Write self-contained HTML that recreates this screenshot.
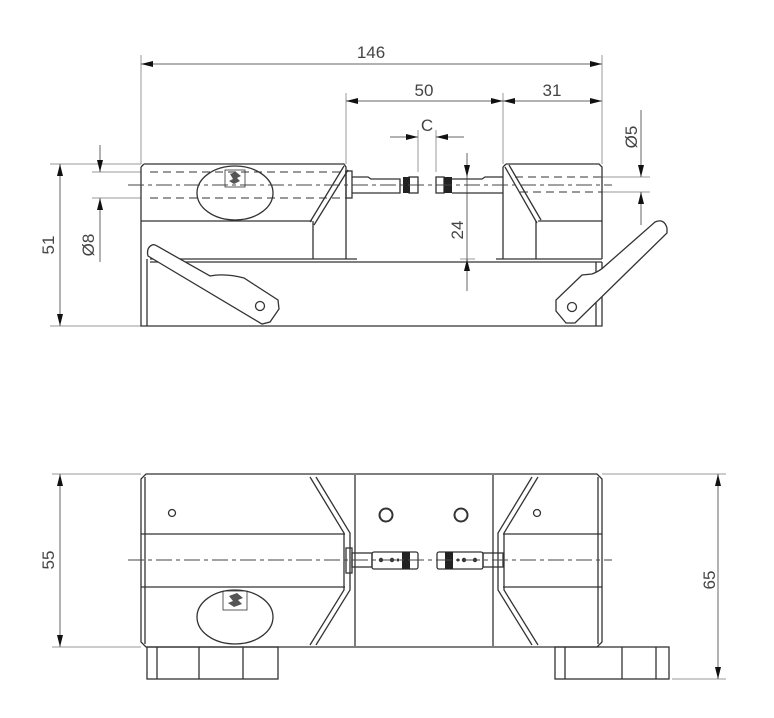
<!DOCTYPE html>
<html><head><meta charset="utf-8"><style>
html,body{margin:0;padding:0;background:#fff;}
svg{display:block;}
text{font-family:"Liberation Sans",sans-serif;font-size:17px;fill:#444;}
</style></head><body>
<svg width="774" height="718" viewBox="0 0 774 718" xmlns="http://www.w3.org/2000/svg">
<defs>
<marker id="a" viewBox="0 0 12 6" refX="12" refY="3" markerWidth="12" markerHeight="6" orient="auto-start-reverse" markerUnits="userSpaceOnUse"><path d="M0,0 L12,3 L0,6 Z" fill="#111"/></marker>
</defs>
<g stroke="#999" stroke-width="1" fill="none">
<line x1="141" y1="55" x2="141" y2="164"/>
<line x1="602" y1="55" x2="602" y2="164"/>
<line x1="346" y1="93" x2="346" y2="164"/>
<line x1="503" y1="93" x2="503" y2="164"/>
<line x1="418" y1="130" x2="418" y2="172"/>
<line x1="436" y1="130" x2="436" y2="172"/>
<line x1="50" y1="164" x2="141" y2="164"/>
<line x1="50" y1="326" x2="141" y2="326"/>
<line x1="92" y1="172" x2="141" y2="172"/>
<line x1="92" y1="198" x2="141" y2="198"/>
<line x1="600" y1="177" x2="650" y2="177"/>
<line x1="600" y1="192" x2="650" y2="192"/>
<line x1="460" y1="259" x2="475" y2="259"/>
<line x1="52" y1="474" x2="141" y2="474"/>
<line x1="52" y1="647" x2="141" y2="647"/>
<line x1="602" y1="474" x2="726" y2="474"/>
<line x1="672" y1="679" x2="726" y2="679"/>
</g>
<g stroke="#666" stroke-width="1" fill="none">
<line x1="141" y1="64" x2="602" y2="64" marker-start="url(#a)" marker-end="url(#a)"/>
<line x1="346" y1="101" x2="503" y2="101" marker-start="url(#a)" marker-end="url(#a)"/>
<line x1="503" y1="101" x2="602" y2="101" marker-start="url(#a)" marker-end="url(#a)"/>
<line x1="390" y1="137" x2="418" y2="137" marker-end="url(#a)"/>
<line x1="464" y1="137" x2="436" y2="137" marker-end="url(#a)"/>
<line x1="60" y1="164" x2="60" y2="326" marker-start="url(#a)" marker-end="url(#a)"/>
<line x1="100" y1="145" x2="100" y2="172" marker-end="url(#a)"/>
<line x1="100" y1="262" x2="100" y2="198" marker-end="url(#a)"/>
<line x1="641" y1="110" x2="641" y2="177" marker-end="url(#a)"/>
<line x1="641" y1="225" x2="641" y2="192" marker-end="url(#a)"/>
<line x1="467" y1="153" x2="467" y2="177" marker-end="url(#a)"/>
<line x1="467" y1="291" x2="467" y2="259" marker-end="url(#a)"/>
<line x1="467" y1="177" x2="467" y2="259"/>
<line x1="60" y1="474" x2="60" y2="647" marker-start="url(#a)" marker-end="url(#a)"/>
<line x1="718" y1="474" x2="718" y2="679" marker-start="url(#a)" marker-end="url(#a)"/>
</g>
<text x="371" y="58" text-anchor="middle">146</text>
<text x="424" y="96" text-anchor="middle">50</text>
<text x="552" y="96" text-anchor="middle">31</text>
<text x="427" y="131" text-anchor="middle">C</text>
<text transform="translate(54,245) rotate(-90)" text-anchor="middle">51</text>
<text transform="translate(94,245) rotate(-90)" text-anchor="middle">Ø8</text>
<text transform="translate(463,230) rotate(-90)" text-anchor="middle">24</text>
<text transform="translate(637,137) rotate(-90)" text-anchor="middle">Ø5</text>
<text transform="translate(54,560) rotate(-90)" text-anchor="middle">55</text>
<text transform="translate(715,580) rotate(-90)" text-anchor="middle">65</text>

<g stroke="#333" stroke-width="1.3" fill="none">
<path d="M144,164 L344,164 L346,167 L346,259 M141,167 L141,326 L602,326 L602,262 M141,167 L144,164"/>
<line x1="147" y1="259" x2="147" y2="326"/>
<line x1="150" y1="259" x2="357" y2="259"/>
<line x1="150" y1="262" x2="602" y2="262"/>
<line x1="496" y1="259" x2="602" y2="259"/>
<line x1="141" y1="221" x2="312" y2="221"/>
<line x1="313" y1="221" x2="313" y2="259"/>
<path d="M344,166 L310,222 M348,170 L314,225"/>
<path d="M506,164 L599,164 L602,167 L602,259 M503,167 L503,259 M506,164 L503,167"/>
<path d="M505,167 L537,223 M509,165 L541,220"/>
<line x1="538" y1="221" x2="602" y2="221"/>
<line x1="536" y1="221" x2="536" y2="259"/>
<line x1="596" y1="262" x2="596" y2="326"/>
<rect x="346" y="171" width="6" height="27"/>
<path d="M352,177 L368,177 L371,179 L400,179 L400,193 L352,193"/>
<rect x="409" y="177" width="9" height="16"/>
<rect x="436" y="177" width="8" height="16"/>
<path d="M452,179 L482,179 L485,177 L503,177 M452,193 L503,193"/>
<ellipse cx="235" cy="193" rx="38" ry="27"/>
<rect x="225" y="170" width="20" height="17" stroke-width="0.8"/>
<path d="M152,245 Q146,248 148,256 L262,324 L270,322 L279,309 L278,300 L244,278 Q225,273 210,276 L157,246 Q154,244 152,245 Z" fill="#fff"/>
<circle cx="260" cy="306" r="4.5"/>
<path d="M655,222 Q664,218 667,228 L667,233 L575,323 L566,323 L556,311 L556,300 L582,275 L592,274 Q600,271 605,266 Z" fill="#fff"/>
<circle cx="572" cy="307" r="4.5"/>
</g>
<rect x="403" y="177" width="7" height="16" fill="#222"/>
<rect x="444" y="177" width="8" height="16" fill="#222"/>
<g stroke="#333" stroke-width="1" fill="none" stroke-dasharray="8,5">
<line x1="150" y1="172" x2="346" y2="172"/>
<line x1="150" y1="198" x2="346" y2="198"/>
<line x1="515" y1="177" x2="602" y2="177"/>
<line x1="520" y1="192" x2="602" y2="192"/>
</g>
<line x1="128" y1="185" x2="612" y2="185" stroke="#444" stroke-width="1" stroke-dasharray="16,4,4,4"/>

<g stroke="#333" stroke-width="1.3" fill="none">
<path d="M146,474 L597,474 L602,479 L602,642 L597,647 L146,647 L141,642 L141,479 Z"/>
<line x1="145" y1="477" x2="145" y2="644"/>
<line x1="598" y1="477" x2="598" y2="644"/>
<line x1="355" y1="475" x2="355" y2="646"/>
<line x1="493" y1="475" x2="493" y2="646"/>
<line x1="141" y1="534" x2="345" y2="534"/>
<line x1="141" y1="587" x2="345" y2="587"/>
<line x1="503" y1="534" x2="602" y2="534"/>
<line x1="503" y1="587" x2="602" y2="587"/>
<path d="M310,477 L344,533 L344,590 L310,645 M316,477 L350,533 L350,590 L316,645"/>
<path d="M538,477 L504,533 L504,590 L538,645 M532,477 L498,533 L498,590 L532,645"/>
<circle cx="172" cy="513" r="3.5"/>
<circle cx="537" cy="513" r="3.5"/>
<circle cx="386" cy="515" r="6.5" stroke-width="2"/>
<circle cx="461" cy="515" r="6.5" stroke-width="2"/>
<ellipse cx="235" cy="617" rx="38" ry="27"/>
<rect x="223" y="591" width="24" height="19" stroke-width="0.8"/>
<rect x="147" y="647" width="131" height="32"/>
<line x1="157" y1="647" x2="157" y2="679"/>
<line x1="199" y1="647" x2="199" y2="679"/>
<line x1="243" y1="647" x2="243" y2="679"/>
<rect x="555" y="647" width="114" height="32"/>
<line x1="565" y1="647" x2="565" y2="679"/>
<line x1="622" y1="647" x2="622" y2="679"/>
<line x1="656" y1="647" x2="656" y2="679"/>
<rect x="346" y="548" width="6" height="25"/>
<rect x="352" y="553" width="20" height="14"/>
<rect x="372" y="552" width="46" height="17" rx="2"/>
<rect x="437" y="552" width="46" height="17" rx="2"/>
<rect x="483" y="553" width="20" height="14"/>
</g>
<rect x="402" y="552" width="8" height="17" fill="#222"/>
<rect x="445" y="552" width="8" height="17" fill="#222"/>
<g fill="#333">
<circle cx="381" cy="560" r="2.2"/><circle cx="392" cy="560" r="2.2"/><circle cx="398" cy="560" r="1.5"/>
<circle cx="458" cy="560" r="1.5"/><circle cx="464" cy="560" r="2.2"/><circle cx="475" cy="560" r="2.2"/>
</g>
<line x1="128" y1="560" x2="612" y2="560" stroke="#444" stroke-width="1" stroke-dasharray="16,4,4,4"/>
<g fill="#555">
<path d="M230,174 l6,-2 l5,4 l-4,2 l3,3 l-6,3 l-5,-3 l4,-2 z"/>
<path d="M229,596 l8,-3 l6,5 l-5,2 l4,4 l-8,3 l-6,-4 l5,-2 z"/>
</g>
</svg>
</body></html>
